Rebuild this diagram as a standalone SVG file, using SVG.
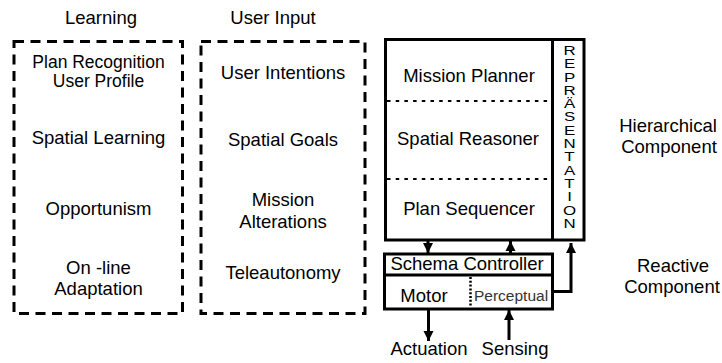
<svg xmlns="http://www.w3.org/2000/svg" width="722" height="363" viewBox="0 0 722 363">
<style>
text{font-family:"Liberation Sans",Arial,sans-serif;font-size:18.5px;fill:#000}
.c{text-anchor:middle}
.sm{font-size:17.5px}
.dash{fill:none;stroke:#000;stroke-width:3;stroke-dasharray:10 6.5}
.solid{fill:#fff;stroke:#000;stroke-width:3}
.dot{stroke:#000;stroke-width:2.2;stroke-dasharray:3.5 5.2;fill:none}
.ln{stroke:#000;stroke-width:3;fill:none}
.rep{font-size:13px}
</style>
<defs>
<marker id="ah" markerUnits="userSpaceOnUse" markerWidth="10" markerHeight="12" refX="10" refY="5" orient="auto" viewBox="0 0 10 10">
<path d="M0,0 L10,5 L0,10 Z" fill="#000"/>
</marker>
</defs>
<rect width="722" height="363" fill="#fff"/>
<g id="learning">
<text class="c" x="101" y="24">Learning</text>
<rect class="dash" x="14" y="41.5" width="168.5" height="272"/>
<text class="c sm" x="98.5" y="67.5">Plan Recognition</text>
<text class="c sm" x="98.5" y="87">User Profile</text>
<text class="c" x="98.5" y="144">Spatial Learning</text>
<text class="c" x="98.5" y="215">Opportunism</text>
<text class="c" x="98.5" y="274">On -line</text>
<text class="c" x="98.5" y="295">Adaptation</text>
</g>
<g id="userinput">
<text class="c" x="273" y="24">User Input</text>
<rect class="dash" x="201" y="41.5" width="164" height="272"/>
<text class="c" x="283" y="79">User Intentions</text>
<text class="c" x="283" y="146">Spatial Goals</text>
<text class="c" x="283" y="206">Mission</text>
<text class="c" x="283" y="228">Alterations</text>
<text class="c" x="283" y="278.5">Teleautonomy</text>
</g>
<g id="hierarchical">
<rect class="solid" x="385.5" y="39.5" width="198.5" height="200.5"/>
<line class="ln" x1="552.5" y1="39.5" x2="552.5" y2="240"/>
<line class="dot" x1="387" y1="101" x2="551" y2="101"/>
<line class="dot" x1="387" y1="179" x2="551" y2="179"/>
<text class="c" x="469" y="81.7">Mission Planner</text>
<text class="c" x="468" y="145">Spatial Reasoner</text>
<text class="c" x="469" y="215">Plan Sequencer</text>
</g>
<g id="representation" transform="translate(569.5,0) scale(1.3,1)">
<text class="c rep" x="0" y="55">R<tspan x="0" dy="13.3">E</tspan><tspan x="0" dy="13.3">P</tspan><tspan x="0" dy="13.3">R</tspan><tspan x="0" dy="13.3">Ä</tspan><tspan x="0" dy="13.3">S</tspan><tspan x="0" dy="13.3">E</tspan><tspan x="0" dy="13.3">N</tspan><tspan x="0" dy="13.3">T</tspan><tspan x="0" dy="13.3">A</tspan><tspan x="0" dy="13.3">T</tspan><tspan x="0" dy="13.3">I</tspan><tspan x="0" dy="13.3">O</tspan><tspan x="0" dy="13.3">N</tspan></text>
</g>
<g id="schema">
<rect class="solid" x="384.5" y="254" width="168" height="55"/>
<line class="ln" x1="384.5" y1="275" x2="552.5" y2="275" stroke-width="2.5"/>
<line x1="470.5" y1="277" x2="470.5" y2="306" stroke="#000" stroke-width="2.5" stroke-dasharray="2 1.8"/>
<text class="c" x="467" y="270">Schema Controller</text>
<text class="c" x="424" y="301.7">Motor</text>
<text x="474" y="300.7" style="font-size:15.5px;fill:#333">Perceptual</text>
</g>
<g id="labels">
<text class="c" x="668" y="132">Hierarchical</text>
<text class="c" x="669" y="153">Component</text>
<text class="c" x="673" y="272">Reactive</text>
<text class="c" x="672" y="292.5">Component</text>
<text class="c" x="429" y="355">Actuation</text>
<text class="c" x="515" y="355">Sensing</text>
</g>
<g id="connectors">
<line class="ln" x1="428" y1="241" x2="428" y2="253" marker-end="url(#ah)"/>
<line class="ln" x1="510.5" y1="253" x2="510.5" y2="241" marker-end="url(#ah)"/>
<polyline class="ln" points="552.5,291.5 571,291.5 571,243" marker-end="url(#ah)"/>
<line class="ln" x1="428.5" y1="310" x2="428.5" y2="341" marker-end="url(#ah)"/>
<line class="ln" x1="509" y1="340" x2="509" y2="310" marker-end="url(#ah)"/>
</g>
</svg>
